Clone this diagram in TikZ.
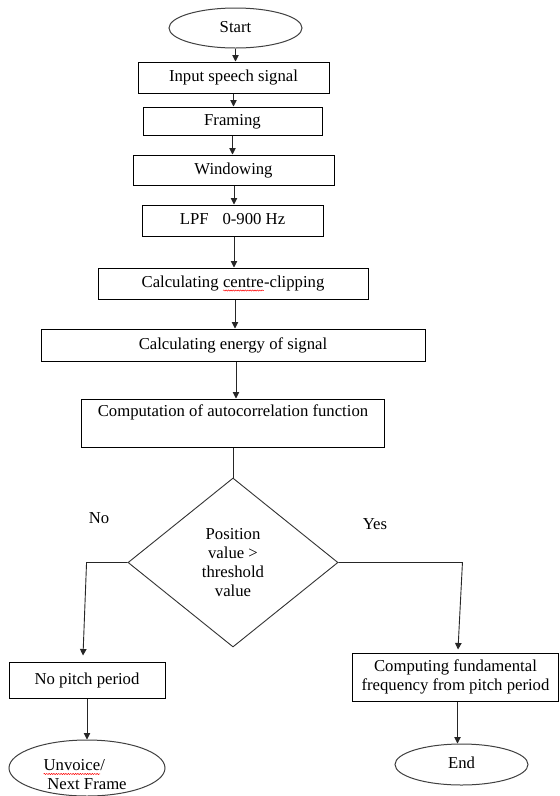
\documentclass[tikz,border=0pt]{standalone}
\usepackage{fontspec}
\setmainfont{Liberation Serif}
\usetikzlibrary{arrows.meta,shapes.geometric,decorations.pathmorphing}
\newcommand\redsquig[1]{\tikz[baseline=(w.base)]{\node[rectangle,inner sep=0pt,outer sep=0pt,draw=none,minimum width=0pt,minimum height=0pt,text height=,text depth=](w){#1};\draw[red,line width=0.5pt,decorate,decoration={snake,amplitude=0.6pt,segment length=2.4pt}] ([yshift=-3pt]w.base west) -- ([yshift=-3pt]w.base east);}}
\tikzset{
  txt/.style={font=\fontsize{16.7}{19}\selectfont, inner sep=0pt},
  one/.style={text height=11.5pt, text depth=3.5pt},
  boxnode/.style={txt, draw=black, line width=1pt, rectangle, align=center},
  ovalnode/.style={txt, draw=black!75, line width=1pt, ellipse},
  decnode/.style={txt, draw=black!80, line width=0.9pt, diamond, align=center},
  flow/.style={draw=black!85, line width=0.9pt},
  arr/.style={flow, -{Triangle[length=6.5pt,width=6.5pt]}}
}
\begin{document}
\begin{tikzpicture}[x=1pt,y=-1pt]
\useasboundingbox (0,0) rectangle (560,796);
\fill[white] (0,0) rectangle (560,796);

\node[ovalnode, one, minimum width=133, minimum height=40] (start) at (235.5,28) {Start};
\node[boxnode, one, minimum width=191, minimum height=31] (input) at (233.5,77.5) {Input speech signal};
\node[boxnode, one, minimum width=179, minimum height=28] (framing) at (232.5,121) {Framing};
\node[boxnode, one, minimum width=201, minimum height=30] (window) at (233.5,170) {Windowing};
\node[boxnode, one, minimum width=181, minimum height=31] (lpf) at (232.5,220.5) {LPF\hspace{14pt}0-900 Hz};
\node[boxnode, one, minimum width=270, minimum height=31] (clip) at (233,283.5) {Calculating \redsquig{centre}-clipping};
\node[boxnode, one, minimum width=384, minimum height=32] (energy) at (233,345) {Calculating energy of signal};
\node[boxnode, minimum width=303, minimum height=48] (auto) at (233,423) {};
\node[txt, one] (autotext) at ([yshift=-14pt]auto.north) {Computation of autocorrelation function};

\node[decnode, minimum width=210, minimum height=169, aspect=1.24] (dec) at (233,562.5)
  {Position\\value >\\threshold\\value};

\node[txt, one] (no) at (99,519) {No};
\node[txt, one] (yes) at (375,525) {Yes};

\node[boxnode, one, minimum width=156, minimum height=36] (nopitch) at (87,680) {No pitch period};
\node[boxnode, minimum width=206, minimum height=48] (compute) at (455.5,677)
  {Computing fundamental\\frequency from pitch period};

\node[ovalnode, minimum width=156, minimum height=56] (unv) at (87,768) {};
\node[txt, align=left] (unvtext) at ([xshift=-2pt,yshift=-7pt]unv.center)
  {\redsquig{Unvoice}/\\\hspace{4pt}Next Frame};
\node[ovalnode, one, minimum width=133, minimum height=41] (endn) at (461.5,764.5) {End};

% connectors
\draw[arr] (start.south) -- (start.south |- input.north);
\draw[arr] (input.south) -- (input.south |- framing.north);
\draw[arr] (framing.south) -- (framing.south |- window.north);
\draw[arr] ([xshift=0.5pt]window.south) -- ([xshift=0.5pt]window.south |- lpf.north);
\draw[arr] ([xshift=1.5pt]lpf.south) -- ([xshift=1.5pt]lpf.south |- clip.north);
\draw[arr] ([xshift=2pt]clip.south) -- ([xshift=2pt]clip.south |- energy.north);
\draw[arr] ([xshift=3pt]energy.south) -- ([xshift=3pt]energy.south |- auto.north);
\draw[flow] (auto.south) -- (dec.north);

\draw[arr] (dec.west) -- ++(-41,0) coordinate (lc)
  -- ([xshift=-4pt,yshift=6pt]nopitch.north);
\draw[arr] (dec.east) -- ++(124,0) coordinate (rc)
  -- ([xshift=2.5pt,yshift=3pt]compute.north);

\draw[arr] (nopitch.south) -- (unv.north);
\draw[arr] ([xshift=2pt]compute.south) -- ([xshift=2pt]compute.south |- endn.north);
\end{tikzpicture}
\end{document}
